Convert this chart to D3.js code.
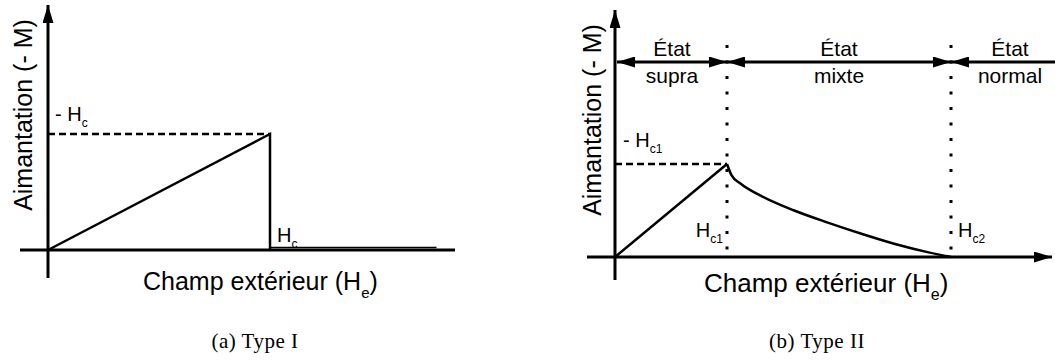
<!DOCTYPE html>
<html>
<head>
<meta charset="utf-8">
<script src="https://cdn.jsdelivr.net/npm/d3@7"></script>
<style>
  body { margin: 0; background: #fff; }
  svg text { font-family: "Liberation Sans", Arial, Helvetica, sans-serif; fill: #000; }
  svg text.caption { font-family: "Liberation Serif", "DejaVu Serif", serif; }
</style>
</head>
<body>
<div id="chart"></div>
<script>
// Type I : linear rise up to Hc, sudden drop, then zero (normal state)
const typeI_H = [0, 1, 1]
const typeI_M = [0, 1, 0]
const normal_H = [1, 1.75]
const normal_M = [0, 0]

// Type II : linear rise up to Hc1, then decay to zero at Hc2
const rise_H = [0, 1]
const rise_M = [0, 1]
const mixed_H = [1, 1.04, 1.12, 1.3, 1.6, 1.9, 2.2, 2.5, 2.8, 3]
const mixed_M = [1, 0.88, 0.79, 0.66, 0.5, 0.37, 0.25, 0.14, 0.05, 0]
const Hc1 = 1
const Hc2 = 3

const states_top = ["État", "État", "État"]
const states_bottom = ["supra", "mixte", "normal"]
const captions = ["(a) Type I", "(b) Type II"]

const width = 1055
const height = 364

const svg = d3.select("#chart")
  .append("svg")
  .attr("width", width)
  .attr("height", height)

const defs = svg.append("defs")
defs.append("marker")
  .attr("id", "arrow")
  .attr("viewBox", "0 -5 10 10")
  .attr("refX", 10)
  .attr("refY", 0)
  .attr("markerUnits", "userSpaceOnUse")
  .attr("markerWidth", 18)
  .attr("markerHeight", 11)
  .attr("orient", "auto-start-reverse")
  .attr("preserveAspectRatio", "none")
  .append("path")
  .attr("d", "M0,-5L10,0L0,5Z")
  .attr("fill", "#000")

function pts(hs, ms) {
  return hs.map((h, i) => [h, ms[i]])
}

function subLabel(g, x, y, main, sub, anchor) {
  const t = g.append("text")
    .attr("x", x)
    .attr("y", y)
    .attr("text-anchor", anchor || "start")
    .style("font-size", "20px")
  t.append("tspan").text(main)
  t.append("tspan").attr("dy", 6).style("font-size", "12px").text(sub)
  return t
}

function axisLabel(g, x, y, size) {
  const t = g.append("text")
    .attr("x", x).attr("y", y)
    .style("font-size", size + "px")
  t.append("tspan").text("Champ extérieur (H")
  t.append("tspan").attr("dy", 8).style("font-size", Math.round(size * 0.6) + "px").text("e")
  t.append("tspan").attr("dy", -8).text(")")
}

// ---------- Panel (a) ----------
const xa = d3.scaleLinear().domain([0, 1]).range([48, 270])
const ya = d3.scaleLinear().domain([0, 1]).range([250, 134])
const ga = svg.append("g")

// axes
ga.append("line")
  .attr("x1", 20).attr("x2", 455)
  .attr("y1", ya(0)).attr("y2", ya(0))
  .attr("stroke", "#000").attr("stroke-width", 3)
ga.append("line")
  .attr("x1", xa(0)).attr("x2", xa(0))
  .attr("y1", 278).attr("y2", 5)
  .attr("stroke", "#000").attr("stroke-width", 3)
  .attr("marker-end", "url(#arrow)")

// dashed level
ga.append("line")
  .attr("x1", xa(0)).attr("x2", xa(1))
  .attr("y1", ya(1)).attr("y2", ya(1))
  .attr("stroke", "#000").attr("stroke-width", 2.5)
  .attr("stroke-dasharray", "7 4")

const line_a = d3.line().x(d => xa(d[0])).y(d => ya(d[1]))
ga.append("path")
  .attr("d", line_a(pts(typeI_H, typeI_M)))
  .attr("fill", "none").attr("stroke", "#000").attr("stroke-width", 2.5)
ga.append("path")
  .attr("d", line_a(pts(normal_H, normal_M)))
  .attr("transform", "translate(0,-2.5)")
  .attr("fill", "none").attr("stroke", "#000").attr("stroke-width", 1.5)

subLabel(ga, 55, 121, "- H", "c")
subLabel(ga, xa(1) + 7, 242, "H", "c")

ga.append("text")
  .attr("transform", `translate(32,${115}) rotate(-90)`)
  .attr("text-anchor", "middle")
  .style("font-size", "25px")
  .text("Aimantation (- M)")

axisLabel(ga, 143, 290, 25)

// ---------- Panel (b) ----------
const xb = d3.scaleLinear().domain([0, 1]).range([615, 727])
const yb = d3.scaleLinear().domain([0, 1]).range([257, 164])
const gb = svg.append("g")

gb.append("line")
  .attr("x1", 587).attr("x2", 1052)
  .attr("y1", yb(0)).attr("y2", yb(0))
  .attr("stroke", "#000").attr("stroke-width", 3)
  .attr("marker-end", "url(#arrow)")
gb.append("line")
  .attr("x1", xb(0)).attr("x2", xb(0))
  .attr("y1", 280).attr("y2", 10)
  .attr("stroke", "#000").attr("stroke-width", 3)
  .attr("marker-end", "url(#arrow)")

// dotted critical fields
;[Hc1, Hc2].forEach(h => {
  gb.append("line")
    .attr("x1", xb(h)).attr("x2", xb(h))
    .attr("y1", 45).attr("y2", 252)
    .attr("stroke", "#000").attr("stroke-width", 3)
    .attr("stroke-dasharray", "3 12.5")
})

gb.append("line")
  .attr("x1", xb(0)).attr("x2", xb(Hc1))
  .attr("y1", yb(1)).attr("y2", yb(1))
  .attr("stroke", "#000").attr("stroke-width", 2.5)
  .attr("stroke-dasharray", "7 4")

const line_b = d3.line().x(d => xb(d[0])).y(d => yb(d[1]))
gb.append("path")
  .attr("d", line_b(pts(rise_H, rise_M)))
  .attr("fill", "none").attr("stroke", "#000").attr("stroke-width", 2.5)
gb.append("path")
  .attr("d", line_b.curve(d3.curveMonotoneX)(pts(mixed_H, mixed_M)))
  .attr("fill", "none").attr("stroke", "#000").attr("stroke-width", 2.5)

// state arrows
const bounds = [[xb(0) + 2, xb(Hc1)], [xb(Hc1), xb(Hc2)], [xb(Hc2), 1060]]
const arrowY = 62
bounds.forEach((b, i) => {
  gb.append("line")
    .attr("x1", b[0]).attr("x2", b[1])
    .attr("y1", arrowY).attr("y2", arrowY)
    .attr("stroke", "#000").attr("stroke-width", 3)
    .attr("marker-start", "url(#arrow)")
    .attr("marker-end", i < 2 ? "url(#arrow)" : null)
  const cx = i < 2 ? (b[0] + b[1]) / 2 : 1010
  gb.append("text")
    .attr("x", cx).attr("y", arrowY - 6)
    .attr("text-anchor", "middle")
    .style("font-size", "21px")
    .text(states_top[i])
  gb.append("text")
    .attr("x", cx).attr("y", arrowY + 21)
    .attr("text-anchor", "middle")
    .style("font-size", "21px")
    .text(states_bottom[i])
})

subLabel(gb, 623, 147, "- H", "c1")
subLabel(gb, xb(Hc1) - 4, 237, "H", "c1", "end")
subLabel(gb, xb(Hc2) + 7, 237, "H", "c2")

gb.append("text")
  .attr("transform", `translate(601,${120}) rotate(-90)`)
  .attr("text-anchor", "middle")
  .style("font-size", "25px")
  .text("Aimantation (- M)")

axisLabel(gb, 704, 292, 26)

// captions
;[255, 817].forEach((cx, i) => {
  svg.append("text")
    .attr("class", "caption")
    .attr("x", cx).attr("y", 348)
    .attr("text-anchor", "middle")
    .style("font-size", "21px")
    .style("letter-spacing", "0.5px")
    .text(captions[i])
})
</script>
</body>
</html>
